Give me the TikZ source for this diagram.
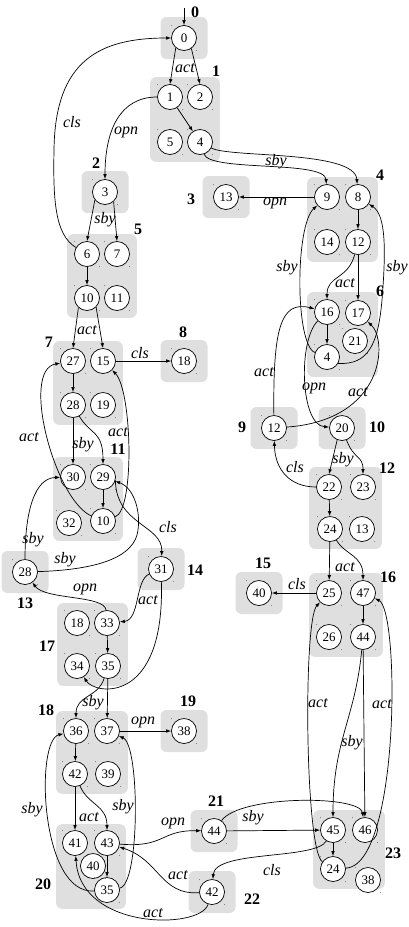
\documentclass[tikz,border=0pt]{standalone}
\usepackage{fontspec}
\setmainfont{Liberation Serif}
\usetikzlibrary{arrows.meta,fit,backgrounds}

\begin{document}
\begin{tikzpicture}[x=1pt, y=-1pt,
  st/.style={circle, draw, line width=0.7pt, fill=white, minimum size=25pt,
             inner sep=0pt, font=\fontsize{13}{13}\selectfont},
  blk/.style={fill=gray!25, rounded corners=6pt, inner sep=7pt,
              minimum width=47pt, minimum height=42pt},
  bnum/.style={font=\fontsize{16}{16}\selectfont\bfseries, inner sep=0pt},
  elab/.style={font=\fontsize{16}{16}\selectfont\itshape, inner sep=0pt},
  tr/.style={-{Latex[length=5pt,width=3.6pt]}, line width=0.7pt},
  corner/.style={fill=black!55}
]
  \useasboundingbox (0,0) rectangle (409,927);

  % states, grouped by block
  \node[st] (b0-0)   at (184,38)  {0};
  \node[st] (b1-1)   at (170,97)  {1};
  \node[st] (b1-2)   at (200,97)  {2};
  \node[st] (b1-5)   at (170,142) {5};
  \node[st] (b1-4)   at (200,142) {4};
  \node[st] (b2-3)   at (105,192) {3};
  \node[st] (b3-13)  at (226,197) {13};
  \node[st] (b4-9)   at (327,197) {9};
  \node[st] (b4-8)   at (358,197) {8};
  \node[st] (b4-14)  at (327,242) {14};
  \node[st] (b4-12)  at (358,242) {12};
  \node[st] (b5-6)   at (87,254)  {6};
  \node[st] (b5-7)   at (117,254) {7};
  \node[st] (b5-10)  at (87,298)  {10};
  \node[st] (b5-11)  at (117,298) {11};
  \node[st] (b6-16)  at (327,312) {16};
  \node[st] (b6-17)  at (358,313) {17};
  \node[st] (b6-21)  at (355,341) {21};
  \node[st] (b6-4)   at (327,357) {4};
  \node[st] (b7-27)  at (73,361)  {27};
  \node[st] (b7-15)  at (103,361) {15};
  \node[st] (b7-28)  at (73,405)  {28};
  \node[st] (b7-19)  at (103,405) {19};
  \node[st] (b8-18)  at (184,361) {18};
  \node[st] (b9-12)  at (274,428) {12};
  \node[st] (b10-20) at (342,428) {20};
  \node[st] (b11-30) at (73,477)  {30};
  \node[st] (b11-29) at (103,477) {29};
  \node[st] (b11-32) at (69,523)  {32};
  \node[st] (b11-10) at (103,521) {10};
  \node[st] (b12-22) at (329,487) {22};
  \node[st] (b12-23) at (363,487) {23};
  \node[st] (b12-24) at (330,529) {24};
  \node[st] (b12-13) at (362,529) {13};
  \node[st] (b13-28) at (25,572)  {28};
  \node[st] (b14-31) at (161,569) {31};
  \node[st] (b15-40) at (259,593) {40};
  \node[st] (b16-25) at (329,593) {25};
  \node[st] (b16-47) at (363,593) {47};
  \node[st] (b16-26) at (329,637) {26};
  \node[st] (b16-44) at (363,637) {44};
  \node[st] (b17-18) at (77,623)  {18};
  \node[st] (b17-33) at (107,623) {33};
  \node[st] (b17-34) at (77,666)  {34};
  \node[st] (b17-35) at (108,666) {35};
  \node[st] (b18-36) at (76,731)  {36};
  \node[st] (b18-37) at (107,731) {37};
  \node[st] (b18-42) at (75,774)  {42};
  \node[st] (b18-39) at (108,774) {39};
  \node[st] (b19-38) at (184,731) {38};
  \node[st] (b20-41) at (75,843)  {41};
  \node[st] (b20-43) at (107,843) {43};
  \node[st] (b20-40) at (93,866)  {40};
  \node[st] (b20-35) at (107,890) {35};
  \node[st] (b21-44) at (214,831) {44};
  \node[st] (b22-42) at (212,892) {42};
  \node[st] (b23-45) at (333,830) {45};
  \node[st] (b23-46) at (365,830) {46};
  \node[st] (b23-24) at (333,869) {24};
  \node[st] (b23-38) at (368,880) {38};

  % blocks
  \begin{scope}[on background layer]
    \node[blk, fit=(b0-0)] (blk0) {};
    \node[blk, fit=(b1-1)(b1-4)] (blk1) {};
    \node[blk, fit=(b2-3)] (blk2) {};
    \node[blk, fit=(b3-13)] (blk3) {};
    \node[blk, fit=(b4-9)(b4-12)] (blk4) {};
    \node[blk, fit=(b5-6)(b5-11)] (blk5) {};
    \node[blk, fit=(b6-16)(b6-17)(b6-4)] (blk6) {};
    \node[blk, fit=(b7-27)(b7-19)] (blk7) {};
    \node[blk, fit=(b8-18)] (blk8) {};
    \node[blk, fit=(b9-12)] (blk9) {};
    \node[blk, fit=(b10-20)] (blk10) {};
    \node[blk, fit=(b11-30)(b11-29)(b11-10)] (blk11) {};
    \node[blk, fit=(b12-22)(b12-13)] (blk12) {};
    \node[blk, fit=(b13-28)] (blk13) {};
    \node[blk, fit=(b14-31)] (blk14) {};
    \node[blk, fit=(b15-40)] (blk15) {};
    \node[blk, fit=(b16-25)(b16-44)] (blk16) {};
    \node[blk, fit=(b17-18)(b17-35)] (blk17) {};
    \node[blk, fit=(b18-36)(b18-39)] (blk18) {};
    \node[blk, fit=(b19-38)] (blk19) {};
    \node[blk, inner sep=6pt, fit=(b20-41)(b20-43)(b20-35)] (blk20) {};
    \node[blk, fit=(b21-44)] (blk21) {};
    \node[blk, fit=(b22-42)] (blk22) {};
    \node[blk, fit=(b23-45)(b23-46)(b23-24)] (blk23) {};
  \end{scope}

  % corner marks of the states
  \foreach \n in {b0-0,b1-1,b1-2,b1-5,b1-4,b2-3,b3-13,b4-9,b4-8,b4-14,b4-12,
                  b5-6,b5-7,b5-10,b5-11,b6-16,b6-17,b6-21,b6-4,b7-27,b7-15,
                  b7-28,b7-19,b8-18,b9-12,b10-20,b11-30,b11-29,b11-32,b11-10,
                  b12-22,b12-23,b12-24,b12-13,b13-28,b14-31,b15-40,b16-25,
                  b16-47,b16-26,b16-44,b17-18,b17-33,b17-34,b17-35,b18-36,
                  b18-37,b18-42,b18-39,b19-38,b20-41,b20-43,b20-40,b20-35,
                  b21-44,b22-42,b23-45,b23-46,b23-24,b23-38}
    \fill[corner] (\n.center) ++(-12.5,-12.5) circle (0.5pt)
                  (\n.center) ++(12.5,12.5) circle (0.5pt);

  % block numbers
  \node[bnum] (n0)  at (195,12)  {0};
  \node[bnum] (n1)  at (216,71)  {1};
  \node[bnum] (n2)  at (96,163)  {2};
  \node[bnum] (n3)  at (191,199) {3};
  \node[bnum] (n4)  at (380,175) {4};
  \node[bnum] (n5)  at (138,229) {5};
  \node[bnum] (n6)  at (380,291) {6};
  \node[bnum] (n7)  at (49,342)  {7};
  \node[bnum] (n8)  at (183,332) {8};
  \node[bnum] (n9)  at (242,427) {9};
  \node[bnum] (n10) at (377,427) {10};
  \node[bnum] (n11) at (118,449) {11};
  \node[bnum] (n12) at (387,468) {12};
  \node[bnum] (n13) at (25,603)  {13};
  \node[bnum] (n14) at (195,570) {14};
  \node[bnum] (n15) at (263,563) {15};
  \node[bnum] (n16) at (388,577) {16};
  \node[bnum] (n17) at (47,646)  {17};
  \node[bnum] (n18) at (46,710)  {18};
  \node[bnum] (n19) at (188,701) {19};
  \node[bnum] (n20) at (43,884)  {20};
  \node[bnum] (n21) at (216,801) {21};
  \node[bnum] (n22) at (252,899) {22};
  \node[bnum] (n23) at (393,853) {23};

  % transitions
  \coordinate (init) at (184,8);
  \draw[tr] (init) -- (b0-0);
  \draw[tr] (b0-0.230) -- (b1-1.north);
  \draw[tr] (b0-0.305) -- (b1-2.north);
  \draw[tr] (b5-6) .. controls (55,235) and (53,200) .. (54,150)
                   .. controls (55,60) and (100,38) .. (b0-0);
  \draw[tr] (b1-1) -- (b1-4);
  \draw[tr] (b1-1) .. controls (120,97) and (105,130) .. (b2-3);
  \draw[tr] (b1-4) .. controls (230,158) and (355,150) .. (b4-8);
  \draw[tr] (b1-4) .. controls (210,172) and (325,160) .. (b4-9);
  \draw[tr] (b4-9) -- (b3-13);
  \draw[tr] (b4-8) -- (b4-12);
  \draw[tr] (b4-12) .. controls (348,280) and (327,275) .. (b6-16);
  \draw[tr] (b4-12) -- (b6-17);
  \draw[tr] (b6-4) .. controls (295,345) and (295,225) .. (b4-9);
  \draw[tr] (b6-4.-30) .. controls (368,365) and (378,345) .. (382,300)
                       .. controls (386,250) and (386,215) .. (b4-8);
  \draw[tr] (b6-16) -- (b6-4);
  \draw[tr] (b9-12) .. controls (273,330) and (280,300) .. (b6-16);
  \draw[tr] (b9-12) .. controls (385,420) and (388,340) .. (b6-17);
  \draw[tr] (b6-16) .. controls (298,340) and (300,425) .. (b10-20);
  \draw[tr] (b10-20.248) -- (b12-22.north);
  \draw[tr] (b10-20) .. controls (354,460) and (363,455) .. (b12-23);
  \draw[tr] (b12-22) .. controls (290,487) and (275,470) .. (b9-12);
  \draw[tr] (b12-22) -- (b12-24);
  \draw[tr] (b12-24) -- (b16-25);
  \draw[tr] (b12-24) .. controls (345,555) and (363,555) .. (b16-47);
  \draw[tr] (b16-25) -- (b15-40);
  \draw[tr] (b16-47) -- (b16-44);
  \draw[tr] (b16-44) .. controls (355,720) and (333,740) .. (b23-45);
  \draw[tr] (b16-44) -- (b23-46);
  \draw[tr] (b23-24) .. controls (305,850) and (303,620) .. (b16-25);
  \draw[tr] (b23-24) .. controls (400,865) and (400,610) .. (b16-47);
  \draw[tr] (b23-45) -- (b23-24);
  \draw[tr] (b23-45) .. controls (315,860) and (215,850) .. (b22-42);
  \draw[tr] (b21-44) -- (b23-45);
  \draw[tr] (b21-44) .. controls (240,795) and (360,795) .. (b23-46);
  \draw[tr] (b20-43) .. controls (165,848) and (160,830) .. (b21-44);
  \draw[tr] (b22-42) .. controls (160,895) and (160,860) .. (b20-43);
  \draw[tr] (b22-42) .. controls (200,930) and (80,930) .. (b20-41);
  \draw[tr] (b18-36) -- (b18-42);
  \draw[tr] (b18-42) -- (b20-41);
  \draw[tr] (b18-42) .. controls (88,805) and (107,805) .. (b20-43);
  \draw[tr] (b20-43) -- (b20-35);
  \draw[tr] (b20-35) .. controls (40,895) and (35,740) .. (b18-36);
  \draw[tr] (b20-35) .. controls (140,885) and (140,745) .. (b18-37);
  \draw[tr] (b18-37) -- (b19-38);
  \draw[tr] (b17-35) .. controls (98,698) and (76,695) .. (b18-36);
  \draw[tr] (b17-35) -- (b18-37);
  \draw[tr] (b17-33) -- (b17-35);
  \draw[tr] (b17-33) .. controls (105,595) and (45,600) .. (b13-28);
  \draw[tr] (b14-31) .. controls (135,580) and (140,620) .. (b17-33);
  \draw[tr] (b14-31) .. controls (165,705) and (95,695) .. (b17-34);
  \draw[tr] (b11-29.-15) .. controls (116,525) and (163,525) .. (b14-31);
  \draw[tr] (b13-28) .. controls (25,510) and (35,478) .. (b11-30);
  \draw[tr] (b13-28) .. controls (90,570) and (130,560) .. (137,535)
                     .. controls (142,515) and (135,488) .. (b11-29);
  \draw[tr] (b11-29) -- (b11-10);
  \draw[tr] (b11-10) .. controls (55,500) and (20,370) .. (b7-27);
  \draw[tr] (b11-10) .. controls (135,510) and (132,390) .. (b7-15);
  \draw[tr] (b7-28) -- (b11-30);
  \draw[tr] (b7-28) .. controls (90,435) and (103,430) .. (b11-29);
  \draw[tr] (b7-27) -- (b7-28);
  \draw[tr] (b7-15) -- (b8-18);
  \draw[tr] (b5-10.228) -- (b7-27.north);
  \draw[tr] (b5-10.315) -- (b7-15.north);
  \draw[tr] (b5-6) -- (b5-10);
  \draw[tr] (b2-3.218) -- (b5-6.north);
  \draw[tr] (b2-3.312) -- (b5-7.north);

  % transition labels
  \node[elab] (l0)   at (185,68)  {act};
  \node[elab] (l1)   at (72,122)  {cls};
  \node[elab] (l2)   at (126,132) {opn};
  \node[elab] (l3)   at (276,162) {sby};
  \node[elab] (l4)   at (275,203) {opn};
  \node[elab] (l5)   at (345,283) {act};
  \node[elab] (l6)   at (287,268) {sby};
  \node[elab] (l7)   at (397,268) {sby};
  \node[elab] (l8)   at (264,372) {act};
  \node[elab] (l9)   at (358,392) {act};
  \node[elab] (l10)  at (314,388) {opn};
  \node[elab] (l11)  at (343,460) {sby};
  \node[elab] (l12)  at (295,467) {cls};
  \node[elab] (l13)  at (345,567) {act};
  \node[elab] (l14)  at (297,584) {cls};
  \node[elab] (l15)  at (352,743) {sby};
  \node[elab] (l16)  at (318,703) {act};
  \node[elab] (l17)  at (382,704) {act};
  \node[elab] (l18)  at (272,870) {cls};
  \node[elab] (l19)  at (253,818) {sby};
  \node[elab] (l20)  at (173,823) {opn};
  \node[elab] (l21)  at (178,875) {act};
  \node[elab] (l22)  at (153,913) {act};
  \node[elab] (l23)  at (89,817)  {act};
  \node[elab] (l24)  at (32,810)  {sby};
  \node[elab] (l25)  at (123,807) {sby};
  \node[elab] (l26)  at (143,722) {opn};
  \node[elab] (l27)  at (93,703)  {sby};
  \node[elab] (l28)  at (85,589)  {opn};
  \node[elab] (l29)  at (148,600) {act};
  \node[elab] (l30)  at (168,527) {cls};
  \node[elab] (l31)  at (33,540)  {sby};
  \node[elab] (l32)  at (65,560)  {sby};
  \node[elab] (l33)  at (29,437)  {act};
  \node[elab] (l34)  at (118,432) {act};
  \node[elab] (l35)  at (83,445)  {sby};
  \node[elab] (l36)  at (140,353) {cls};
  \node[elab] (l37)  at (87,330)  {act};
  \node[elab] (l38)  at (105,220) {sby};
\end{tikzpicture}
\end{document}
